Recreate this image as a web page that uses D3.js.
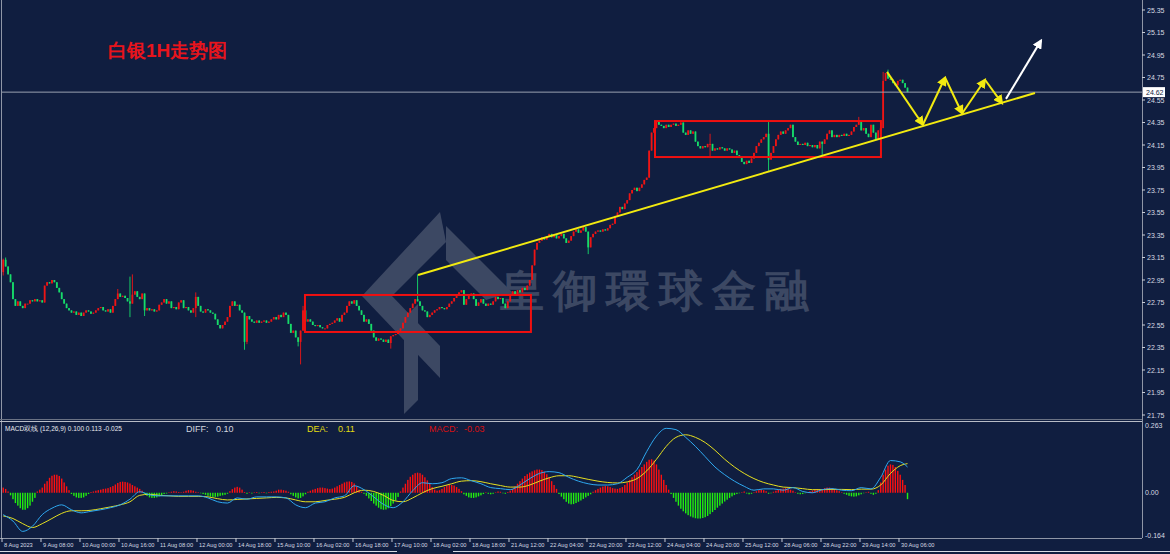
<!DOCTYPE html>
<html>
<head>
<meta charset="utf-8">
<script src="https://cdn.jsdelivr.net/npm/d3@7"></script>
<style>
  body { margin: 0; background: #101e40; overflow: hidden; }
  svg { display: block; }
  text { font-family: "Liberation Sans", Arial, sans-serif; }
</style>
</head>
<body>
<div id="container"></div>
<script>
/* DATA - hourly silver closes (open = previous close) */
const firstOpen = 23.02;
const closes = [
  23.13, 23.07, 23.00, 22.93, 22.78, 22.72, 22.76, 22.72, 22.70, 22.74,
  22.74, 22.77, 22.76, 22.78, 22.76, 22.77, 22.75, 22.90, 22.93, 22.92,
  22.95, 22.93, 22.88, 22.84, 22.78, 22.74, 22.70, 22.68, 22.66, 22.67,
  22.64, 22.66, 22.63, 22.66, 22.68, 22.67, 22.65, 22.66, 22.68, 22.70,
  22.71, 22.68, 22.67, 22.69, 22.66, 22.72, 22.78, 22.83, 22.80, 22.81,
  22.79, 22.76, 22.74, 22.82, 22.85, 22.80, 22.78, 22.83, 22.68, 22.70,
  22.68, 22.69, 22.67, 22.68, 22.73, 22.75, 22.78, 22.74, 22.76, 22.70,
  22.71, 22.69, 22.75, 22.77, 22.70, 22.71, 22.68, 22.66, 22.70, 22.80,
  22.72, 22.67, 22.66, 22.69, 22.68, 22.66, 22.65, 22.60, 22.55, 22.52,
  22.55, 22.58, 22.62, 22.72, 22.76, 22.72, 22.73, 22.68, 22.66, 22.40,
  22.63, 22.60, 22.58, 22.57, 22.59, 22.57, 22.58, 22.59, 22.57, 22.58,
  22.60, 22.62, 22.60, 22.64, 22.62, 22.66, 22.64, 22.56, 22.48, 22.50,
  22.44, 22.40, 22.50, 22.68, 22.58, 22.60, 22.58, 22.55, 22.54, 22.55,
  22.53, 22.52, 22.52, 22.55, 22.56, 22.57, 22.59, 22.61, 22.58, 22.64,
  22.66, 22.72, 22.76, 22.74, 22.77, 22.72, 22.68, 22.64, 22.58, 22.60,
  22.56, 22.50, 22.44, 22.41, 22.43, 22.42, 22.40, 22.42, 22.39, 22.45,
  22.46, 22.47, 22.50, 22.52, 22.57, 22.62, 22.66, 22.70, 22.74, 22.78,
  22.76, 22.72, 22.68, 22.67, 22.62, 22.64, 22.66, 22.68, 22.69, 22.71,
  22.70, 22.69, 22.71, 22.74, 22.76, 22.79, 22.82, 22.84, 22.86, 22.73,
  22.78, 22.81, 22.83, 22.78, 22.72, 22.75, 22.78, 22.74, 22.72, 22.74,
  22.73, 22.76, 22.80, 22.78, 22.79, 22.74, 22.70, 22.76, 22.82, 22.85,
  22.82, 22.86, 22.84, 22.88, 22.86, 22.90, 22.95, 23.08, 23.22, 23.28,
  23.30, 23.33, 23.31, 23.34, 23.36, 23.33, 23.35, 23.32, 23.34, 23.36,
  23.32, 23.28, 23.30, 23.34, 23.38, 23.40, 23.37, 23.39, 23.42, 23.38,
  23.24, 23.33, 23.36, 23.38, 23.39, 23.38, 23.40, 23.39, 23.41, 23.44,
  23.45, 23.52, 23.55, 23.60, 23.58, 23.63, 23.66, 23.72, 23.75, 23.77,
  23.74, 23.77, 23.80, 23.84, 23.86, 24.10, 24.26, 24.30, 24.36, 24.33,
  24.32, 24.30, 24.33, 24.31, 24.33, 24.34, 24.32, 24.33, 24.35, 24.26,
  24.24, 24.28, 24.25, 24.27, 24.18, 24.14, 24.12, 24.14, 24.13, 24.16,
  24.16, 24.10, 24.12, 24.11, 24.13, 24.12, 24.10, 24.12, 24.11, 24.08,
  24.10, 24.06, 24.04, 24.00, 23.98, 24.01, 23.99, 24.03, 24.08, 24.14,
  24.17, 24.20, 24.22, 24.25, 24.02, 24.08, 24.14, 24.20, 24.24, 24.27,
  24.25, 24.28, 24.30, 24.33, 24.22, 24.18, 24.15, 24.16, 24.15, 24.17,
  24.14, 24.15, 24.13, 24.15, 24.12, 24.18, 24.16, 24.20, 24.25, 24.28,
  24.22, 24.24, 24.22, 24.24, 24.23, 24.25, 24.23, 24.24, 24.27, 24.31,
  24.33, 24.36, 24.28, 24.30, 24.25, 24.22, 24.33, 24.26, 24.20, 24.28,
  24.30, 24.72, 24.79, 24.74, 24.73, 24.70, 24.68, 24.72, 24.73, 24.70,
  24.66, 24.62
];
// notable shadows: [bar, high, low]
const wicks = [
  [0, 23.14, 22.99], [1, 23.15, null], [47, 22.87, null], [52, 22.98, 22.62],
  [53, 23.00, null], [58, null, 22.63], [79, 22.84, 22.62], [99, null, 22.33],
  [100, null, 22.38], [121, null, 22.36], [122, null, 22.20], [123, 22.72, null],
  [159, null, 22.34], [170, 23.00, null], [240, null, 23.18], [290, 24.25, 24.05],
  [314, 24.36, 23.92], [336, null, 24.04], [351, 24.40, null], [361, 24.80, null],
  [363, 24.82, null]
];
const lastPrice = 24.62;
const priceTicks = [25.35, 25.15, 24.95, 24.75, 24.55, 24.35, 24.15, 23.95, 23.75, 23.55,
  23.35, 23.15, 22.95, 22.75, 22.55, 22.35, 22.15, 21.95, 21.75];
const timeLabels = ["8 Aug 2023", "9 Aug 08:00", "10 Aug 00:00", "10 Aug 16:00", "11 Aug 08:00",
  "12 Aug 00:00", "14 Aug 18:00", "15 Aug 10:00", "16 Aug 02:00", "16 Aug 18:00", "17 Aug 10:00",
  "18 Aug 02:00", "18 Aug 18:00", "21 Aug 12:00", "22 Aug 04:00", "22 Aug 20:00", "23 Aug 12:00",
  "24 Aug 04:00", "24 Aug 20:00", "25 Aug 12:00", "28 Aug 06:00", "28 Aug 22:00", "29 Aug 14:00",
  "30 Aug 06:00"];
const labelEvery = 16;

// MACD histogram, one value per bar
const hist = [
  0.02, 0.015, 0.005,
  -0.01, -0.025, -0.04, -0.05, -0.06, -0.066, -0.066, -0.06, -0.05, -0.035, -0.02,
  0.005, 0.012, 0.02, 0.035, 0.045, 0.058, 0.066, 0.07, 0.07, 0.065, 0.055, 0.04, 0.025, 0.01,
  -0.005, -0.012, -0.018, -0.02, -0.02, -0.018, -0.012, -0.005,
  0.003, 0.005, 0.008, 0.01, 0.012, 0.015, 0.016, 0.018, 0.022, 0.026, 0.032, 0.038, 0.042, 0.043, 0.042, 0.04, 0.036, 0.03, 0.025, 0.02, 0.015, 0.008,
  -0.005, -0.012, -0.018, -0.02, -0.02, -0.018, -0.014, -0.01, -0.005,
  -0.003, 0.002, 0.004, 0.006, 0.005, 0.003, 0.002, 0.004, 0.008,
  0.01, 0.01, 0.008,
  0.004, 0.002, -0.002, -0.005,
  -0.008, -0.012, -0.015, -0.016, -0.016, -0.015, -0.012, -0.01, -0.008, -0.004,
  0.006, 0.014, 0.02, 0.023, 0.02, 0.012,
  0.003, -0.004, 0.002, -0.003, 0.002, 0.003, -0.002, 0.002, 0.003, -0.002, 0.003, 0.004, 0.005,
  0.008, 0.012, 0.012, 0.01, 0.008, 0.004,
  -0.006, -0.012, -0.018, -0.022, -0.02, -0.014, -0.006,
  0.004, 0.008, 0.012, 0.015, 0.018, 0.02, 0.02, 0.018, 0.016, 0.014, 0.016,
  0.02, 0.025, 0.03, 0.035, 0.04,
  0.043, 0.044, 0.042, 0.036, 0.025, 0.012,
  0.004, -0.004, -0.012, -0.022,
  -0.032, -0.042, -0.05, -0.058, -0.064, -0.066, -0.065, -0.06, -0.052, -0.042, -0.03, -0.016,
  0.005, 0.02, 0.035, 0.05, 0.062, 0.07, 0.076, 0.078, 0.076, 0.07, 0.06, 0.048, 0.035, 0.022,
  0.012, 0.008, 0.01, 0.015,
  0.022, 0.028, 0.03, 0.03, 0.028, 0.022, 0.015, 0.006,
  -0.006, -0.012, -0.018, -0.02, -0.02, -0.018, -0.014, -0.01, -0.005,
  0.002, -0.004, -0.006, -0.004, 0.002, 0.005, 0.004, -0.002, -0.004, 0.003, 0.008,
  0.015, 0.025, 0.035, 0.045, 0.055, 0.065, 0.072, 0.078, 0.083, 0.087, 0.09, 0.09, 0.088, 0.082, 0.072, 0.06, 0.045, 0.03, 0.015,
  -0.005, -0.015, -0.025, -0.035, -0.042, -0.045, -0.044, -0.04, -0.035, -0.03, -0.024, -0.018, -0.012, -0.006,
  0.004, 0.01, 0.015, 0.02, 0.024, 0.026, 0.025, 0.022, 0.018, 0.016, 0.015, 0.018, 0.022, 0.03,
  0.04, 0.05, 0.06, 0.07, 0.08, 0.09, 0.1, 0.11, 0.12, 0.128, 0.13, 0.125, 0.11, 0.09, 0.07,
  0.05, 0.03, 0.012, -0.005,
  -0.02, -0.035, -0.05, -0.062, -0.072, -0.08, -0.087, -0.092, -0.096, -0.099, -0.1, -0.1, -0.098, -0.095, -0.09, -0.083, -0.075, -0.067, -0.058, -0.05, -0.042, -0.034, -0.027, -0.02, -0.014, -0.009, -0.005,
  -0.002, 0.002, 0.005, -0.003, -0.006, -0.004, 0.002, 0.006, 0.01, 0.012, 0.01,
  0.006, -0.004, -0.002, 0.004, 0.008, 0.012, 0.015, 0.016, 0.018, 0.016, 0.012, 0.008,
  0.002, -0.004, -0.006, -0.005, -0.002, 0.003, 0.006, 0.009, 0.012, 0.014, 0.012,
  0.014, 0.018, 0.02, 0.02, 0.018, 0.014, 0.01, 0.006, 0.002,
  -0.004, -0.008, -0.012, -0.014, -0.015, -0.014, -0.01, -0.006, -0.002, 0.002, 0.004, -0.004, -0.008, -0.004,
  0.01, 0.04, 0.07, 0.09, 0.105, 0.11, 0.108, 0.1, 0.085, 0.07, 0.05, 0.03,
  -0.025
];
// DIFF / DEA read every 4 bars (last one is the final bar)
const diffLine = [
  -0.085, -0.11, -0.15, -0.13, -0.085, -0.06, -0.047, -0.066, -0.078, -0.072,
  -0.066, -0.058, -0.047, -0.025, 0.004, -0.008, -0.012, -0.012, -0.012, -0.012,
  -0.012, -0.02, -0.035, -0.04, -0.02, -0.025, -0.016, -0.016, -0.016, -0.02,
  -0.047, -0.058, -0.04, -0.035, -0.02, -0.012, 0.027, 0.012, -0.016, -0.045,
  -0.058, -0.035, 0.008, 0.039, 0.035, 0.039, 0.055, 0.058, 0.047, 0.035,
  0.02, 0.016, 0.012, 0.03, 0.055, 0.075, 0.082, 0.078, 0.06, 0.045,
  0.035, 0.03, 0.03, 0.035, 0.06, 0.09, 0.16, 0.22, 0.25, 0.245,
  0.215, 0.18, 0.14, 0.1, 0.07, 0.045, 0.025, 0.01, 0.015, 0.015,
  0.01, 0.02, 0.005, 0.0, 0.012, 0.016, 0.01, 0.008, 0.02, 0.015,
  0.06, 0.125, 0.12, 0.100
];
const deaLine = [
  -0.09, -0.1, -0.12, -0.135, -0.12, -0.1, -0.08, -0.07, -0.07, -0.068,
  -0.062, -0.055, -0.047, -0.035, -0.01, -0.006, -0.01, -0.012, -0.014, -0.014,
  -0.014, -0.016, -0.023, -0.028, -0.026, -0.024, -0.022, -0.02, -0.018, -0.02,
  -0.028, -0.035, -0.035, -0.03, -0.025, -0.018, 0.0, 0.01, 0.005, -0.01,
  -0.03, -0.035, -0.02, 0.0, 0.016, 0.025, 0.035, 0.045, 0.047, 0.043,
  0.035, 0.028, 0.022, 0.022, 0.03, 0.045, 0.058, 0.066, 0.066, 0.06,
  0.052, 0.045, 0.04, 0.038, 0.042, 0.055, 0.085, 0.13, 0.18, 0.215,
  0.225, 0.215, 0.195, 0.165, 0.13, 0.1, 0.075, 0.055, 0.04, 0.03,
  0.022, 0.02, 0.016, 0.012, 0.012, 0.013, 0.013, 0.012, 0.014, 0.014,
  0.03, 0.075, 0.105, 0.113
];
const macdTicks = [0.263, 0, -0.164];

// drawings on the chart, in [bar, price]
const trendLine = [[170.2, 22.994], [423.3, 24.612]];
const zigzag = [[362.6, 24.80], [377.3, 24.33], [386.4, 24.75], [393.4, 24.43], [402.8, 24.73], [409.8, 24.52]];
const breakout = [[411.4, 24.56], [425.8, 25.08]];
const boxes = [
  { from: 123.8, to: 216.5, hi: 22.817, lo: 22.488 },
  { from: 267.4, to: 360.1, hi: 24.363, lo: 24.043 }
];

/* CONSTANTS */
const width = 1170, height = 554;
const plot = { left: 2, right: 1142 };
const upColor = "#ee1515", downColor = "#16dc6a";

const opens = closes.map((c, i) => i === 0 ? firstOpen : closes[i - 1]);
const bars = closes.map((c, i) => {
  const w = wicks.find(d => d[0] === i);
  const o = opens[i];
  return {
    i, o, c,
    h: w && w[1] != null ? w[1] : Math.max(o, c),
    l: w && w[2] != null ? w[2] : Math.min(o, c)
  };
});
const lineIdx = [...d3.range(0, 372, 4), closes.length - 1];

/* SCALES */
const xScale = d3.scaleLinear().domain([-0.5, 467.2]).range([plot.left, plot.right]);
const step = xScale(1) - xScale(0);
const yScale = d3.scaleLinear().domain([21.75, 25.35]).range([415, 10]);
const yMacd = d3.scaleLinear().domain([-0.164, 0.263]).range([535, 425]);

const svg = d3.select("#container").append("svg")
  .attr("width", width)
  .attr("height", height);

svg.append("rect").attr("width", width).attr("height", height).attr("fill", "#101e40");

const defs = svg.append("defs");
function marker(id, color) {
  defs.append("marker")
    .attr("id", id)
    .attr("viewBox", "0 0 10 10")
    .attr("refX", 8).attr("refY", 5)
    .attr("markerWidth", 5).attr("markerHeight", 5)
    .attr("orient", "auto-start-reverse")
    .append("path")
    .attr("d", "M0,0 L10,5 L0,10 z")
    .attr("fill", color);
}
marker("arrowY", "#f2ea10");
marker("arrowW", "#ffffff");

//WATERMARK
const wm = svg.append("g").attr("fill", "#9aa0ad").attr("opacity", 0.32);
wm.append("polygon").attr("points", "440,212 446,242 392,296 362,296");
wm.append("polygon").attr("points", "362,296 392,296 440,346 440,378");
wm.append("polygon").attr("points", "446,226 512,292 486,300 446,260");
wm.append("polygon").attr("points", "404,318 418,304 418,400 404,414");
wm.append("text")
  .attr("x", 500).attr("y", 306)
  .attr("font-family", "'Noto Sans CJK TC', 'Noto Sans CJK SC', sans-serif")
  .attr("font-size", 44)
  .attr("font-weight", 700)
  .attr("letter-spacing", 9)
  .text("皇御環球金融");

//FRAME
const frame = svg.append("g").attr("stroke", "#8f96a6").attr("fill", "none");
frame.append("line").attr("x1", 1.5).attr("x2", 1.5).attr("y1", 0).attr("y2", 538);
frame.append("line").attr("x1", plot.right + 0.5).attr("x2", plot.right + 0.5).attr("y1", 0).attr("y2", 538);
frame.append("line").attr("x1", 0).attr("x2", plot.right).attr("y1", 419.5).attr("y2", 419.5).attr("stroke", "#6a7284");
frame.append("line").attr("x1", 0).attr("x2", plot.right).attr("y1", 421.5).attr("y2", 421.5).attr("stroke", "#b8bcc6");
frame.append("line").attr("x1", 0).attr("x2", plot.right).attr("y1", 538.5).attr("y2", 538.5);
frame.append("line").attr("x1", 0).attr("x2", 397).attr("y1", 551.5).attr("y2", 551.5).attr("stroke", "#d8dce4");
frame.append("line").attr("x1", 453).attr("x2", width).attr("y1", 551.5).attr("y2", 551.5).attr("stroke", "#d8dce4");

//CANDLES
const candles = svg.append("g").selectAll("g")
  .data(bars)
  .join("g");
candles.append("line")
  .attr("x1", d => xScale(d.i)).attr("x2", d => xScale(d.i))
  .attr("y1", d => yScale(d.h)).attr("y2", d => yScale(d.l))
  .attr("stroke", d => d.c >= d.o ? upColor : downColor)
  .attr("stroke-width", 0.9);
candles.append("rect")
  .attr("x", d => xScale(d.i) - 0.9)
  .attr("width", 1.8)
  .attr("y", d => yScale(Math.max(d.o, d.c)))
  .attr("height", d => Math.max(1, Math.abs(yScale(d.o) - yScale(d.c))))
  .attr("fill", d => d.c >= d.o ? upColor : downColor);

//CURRENT PRICE LINE
svg.append("line")
  .attr("x1", plot.left).attr("x2", plot.right)
  .attr("y1", yScale(lastPrice)).attr("y2", yScale(lastPrice))
  .attr("stroke", "#9aa1b0").attr("stroke-width", 1);

//BOXES
svg.append("g").selectAll("rect")
  .data(boxes)
  .join("rect")
  .attr("x", d => xScale(d.from))
  .attr("y", d => yScale(d.hi))
  .attr("width", d => xScale(d.to) - xScale(d.from))
  .attr("height", d => yScale(d.lo) - yScale(d.hi))
  .attr("fill", "none")
  .attr("stroke", "#f01010")
  .attr("stroke-width", 2);

//TREND LINE + ARROWS
const pLine = d3.line().x(d => xScale(d[0])).y(d => yScale(d[1]));
svg.append("path")
  .attr("d", pLine(trendLine))
  .attr("stroke", "#f2ea10").attr("stroke-width", 2).attr("fill", "none");
svg.append("g").selectAll("path")
  .data(d3.pairs(zigzag))
  .join("path")
  .attr("d", d => pLine(d))
  .attr("stroke", "#f2ea10").attr("stroke-width", 2).attr("fill", "none")
  .attr("marker-end", "url(#arrowY)");
svg.append("path")
  .attr("d", pLine(breakout))
  .attr("stroke", "#ffffff").attr("stroke-width", 2).attr("fill", "none")
  .attr("marker-end", "url(#arrowW)");

//TITLE
svg.append("text")
  .attr("x", 108).attr("y", 57)
  .attr("font-family", "'Noto Sans CJK SC', sans-serif")
  .attr("font-size", 19)
  .attr("font-weight", 700)
  .attr("fill", "#e8141c")
  .text("白银1H走势图");

//PRICE AXIS
const pAxis = svg.append("g").attr("transform", `translate(${plot.right},0)`);
pAxis.selectAll("line")
  .data(priceTicks)
  .join("line")
  .attr("x1", 0).attr("x2", 3)
  .attr("y1", d => yScale(d)).attr("y2", d => yScale(d))
  .attr("stroke", "#c8ccd6");
pAxis.selectAll("text")
  .data(priceTicks)
  .join("text")
  .attr("x", 5).attr("y", d => yScale(d) + 2.5)
  .attr("font-size", 7)
  .attr("fill", "#d6d9e0")
  .text(d => d.toFixed(2));
pAxis.append("rect")
  .attr("x", 1).attr("y", yScale(lastPrice) - 5)
  .attr("width", 22).attr("height", 10)
  .attr("fill", "#ffffff");
pAxis.append("text")
  .attr("x", 4).attr("y", yScale(lastPrice) + 2.5)
  .attr("font-size", 7)
  .attr("fill", "#101e40")
  .text(lastPrice.toFixed(2));

//MACD
svg.append("g").selectAll("rect")
  .data(hist)
  .join("rect")
  .attr("x", (d, i) => xScale(i) - 0.7)
  .attr("width", 1.4)
  .attr("y", d => yMacd(Math.max(0, d)))
  .attr("height", d => Math.abs(yMacd(d) - yMacd(0)))
  .attr("fill", d => d >= 0 ? "#ff1010" : "#22ee10");

const mLine = d3.line()
  .x((d, k) => xScale(lineIdx[k]))
  .y(d => yMacd(d))
  .curve(d3.curveMonotoneX);
svg.append("path").attr("d", mLine(deaLine))
  .attr("fill", "none").attr("stroke", "#e6e020").attr("stroke-width", 1);
svg.append("path").attr("d", mLine(diffLine))
  .attr("fill", "none").attr("stroke", "#2ea8f0").attr("stroke-width", 1);

const mAxis = svg.append("g").attr("transform", `translate(${plot.right},0)`);
mAxis.selectAll("text")
  .data(macdTicks)
  .join("text")
  .attr("x", 3).attr("y", d => yMacd(d) + 2.5)
  .attr("font-size", 7)
  .attr("fill", "#d6d9e0")
  .text(d => d === 0 ? "0.00" : d.toFixed(3));

svg.append("text")
  .attr("x", 5).attr("y", 431)
  .attr("font-size", 6.5)
  .attr("fill", "#e6e8ee")
  .text("MACD双线 (12,26,9) " + diffLine[diffLine.length - 1].toFixed(3) + " " +
        deaLine[deaLine.length - 1].toFixed(3) + " " + hist[hist.length - 1].toFixed(3));
const legend = [
  { label: "DIFF:", x: 186, vx: 216, value: diffLine[diffLine.length - 1], color: "#d0d4de" },
  { label: "DEA:", x: 307, vx: 338, value: deaLine[deaLine.length - 1], color: "#e0dc10" },
  { label: "MACD:", x: 429, vx: 464, value: hist[hist.length - 1], color: "#d81010" }
];
legend.forEach(l => {
  svg.append("text").attr("x", l.x).attr("y", 432).attr("font-size", 9).attr("fill", l.color).text(l.label);
  svg.append("text").attr("x", l.vx).attr("y", 432).attr("font-size", 9).attr("fill", l.color).text(l.value.toFixed(2));
});

//TIME AXIS
const tAxis = svg.append("g");
tAxis.selectAll("line")
  .data(timeLabels)
  .join("line")
  .attr("x1", (d, k) => xScale(k * labelEvery) - step / 2)
  .attr("x2", (d, k) => xScale(k * labelEvery) - step / 2)
  .attr("y1", 538).attr("y2", 542)
  .attr("stroke", "#c8ccd6");
tAxis.selectAll("text")
  .data(timeLabels)
  .join("text")
  .attr("x", (d, k) => xScale(k * labelEvery) - step / 2 + 2)
  .attr("y", 546.5)
  .attr("font-size", 5.7)
  .attr("fill", "#d6d9e0")
  .text(d => d);
</script>
</body>
</html>
